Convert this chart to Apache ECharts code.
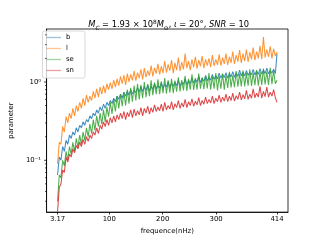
<!DOCTYPE html>
<html>
<head>
<meta charset="utf-8">
<script src="https://cdn.jsdelivr.net/npm/echarts@6/dist/echarts.min.js"></script>
<style>html,body{margin:0;padding:0;background:#fff}#c{width:320px;height:240px}</style>
</head>
<body>
<div id="c"></div>
<script>
const freq = [3.17,6.4,9.5,12.7,15.9,19.1,22.3,25.5,28.7,31.8,
35.0,38.2,41.4,44.6,47.8,50.9,54.1,57.3,60.5,63.7,
66.9,70.1,73.2,76.4,79.6,82.8,86.0,89.2,92.4,95.5,
98.7,101.9,105.1,108.3,111.5,114.6,117.8,121.0,124.2,127.4,
130.6,133.8,136.9,140.1,143.3,146.5,149.7,152.9,156.1,159.2,
162.4,165.6,168.8,172.0,175.2,178.3,181.5,184.7,187.9,191.1,
194.3,197.5,200.6,203.8,207.0,210.2,213.4,216.6,219.8,222.9,
226.1,229.3,232.5,235.7,238.9,242.0,245.2,248.4,251.6,254.8,
258.0,261.2,264.3,267.5,270.7,273.9,277.1,280.3,283.5,286.6,
289.8,293.0,296.2,299.4,302.6,305.7,308.9,312.1,315.3,318.5,
321.7,324.9,328.0,331.2,334.4,337.6,340.8,344.0,347.2,350.3,
353.5,356.7,359.9,363.1,366.3,369.4,372.6,375.8,379.0,382.2,
385.4,388.6,391.7,394.9,398.1,401.3,404.5,407.7,410.9,414.0];

const b = [0.065,0.11,0.10,0.15,0.13,0.18,0.16,0.21,0.19,0.23,
0.21,0.26,0.23,0.28,0.26,0.31,0.28,0.33,0.31,0.37,
0.34,0.40,0.37,0.44,0.40,0.48,0.43,0.52,0.46,0.55,
0.50,0.58,0.53,0.62,0.56,0.66,0.60,0.70,0.62,0.74,
0.66,0.76,0.68,0.80,0.70,0.78,0.73,0.84,0.74,0.88,
0.76,0.86,0.78,0.92,0.77,0.88,0.80,0.95,0.82,0.90,
0.84,0.98,0.83,0.94,0.86,1.02,0.85,0.96,0.88,1.00,
0.90,1.05,0.88,1.00,0.93,1.10,0.92,1.04,0.96,1.12,
0.97,1.08,1.00,1.18,0.98,1.12,1.02,1.20,1.04,1.14,
1.06,1.25,1.08,1.20,1.10,1.30,1.12,1.26,1.14,1.32,
1.12,1.28,1.16,1.36,1.15,1.30,1.18,1.42,1.20,1.34,
1.20,1.40,1.22,1.32,1.24,1.45,1.23,1.38,1.25,1.48,
1.26,1.42,1.28,1.50,1.27,1.40,1.30,1.46,1.28,2.30];

const l = [0.09,0.17,0.16,0.27,0.23,0.36,0.30,0.40,0.34,0.46,
0.37,0.50,0.42,0.55,0.46,0.62,0.50,0.68,0.55,0.66,
0.58,0.76,0.62,0.82,0.64,0.86,0.70,0.90,0.72,0.95,
0.80,0.98,0.82,1.06,0.86,1.10,0.90,1.18,0.95,1.22,
0.92,1.28,1.00,1.25,1.05,1.38,1.04,1.32,1.12,1.45,
1.08,1.50,1.15,1.40,1.20,1.62,1.18,1.52,1.28,1.70,
1.25,1.58,1.30,1.85,1.32,1.68,1.40,1.90,1.30,1.75,
1.42,2.05,1.38,1.80,1.45,2.30,1.50,1.85,1.42,1.95,
1.55,2.10,1.48,1.90,1.58,2.15,1.50,1.95,1.62,2.00,
1.55,2.20,1.60,1.95,1.65,2.25,1.62,2.05,1.70,2.30,
1.65,2.10,1.75,2.45,1.70,2.20,1.82,2.55,1.75,2.30,
1.85,2.60,1.80,2.40,1.95,2.75,1.90,2.45,2.00,2.90,
1.95,3.75,2.05,2.60,2.10,2.85,2.00,2.65,2.15,2.40];

const se = [0.030,0.065,0.060,0.10,0.085,0.13,0.10,0.15,0.12,0.17,
0.13,0.19,0.145,0.21,0.16,0.23,0.18,0.26,0.20,0.29,
0.22,0.33,0.24,0.37,0.27,0.40,0.29,0.44,0.31,0.48,
0.36,0.55,0.39,0.60,0.42,0.66,0.46,0.70,0.49,0.74,
0.50,0.80,0.53,0.84,0.56,0.90,0.58,0.95,0.60,0.92,
0.62,1.00,0.64,0.94,0.66,1.05,0.68,0.98,0.70,1.08,
0.70,1.02,0.72,1.12,0.71,1.05,0.73,1.10,0.72,1.04,
0.75,1.15,0.76,1.06,0.78,1.20,0.77,1.10,0.80,1.25,
0.79,1.12,0.80,1.28,0.82,1.15,0.81,1.22,0.83,1.30,
0.80,1.18,0.82,1.30,0.78,1.20,0.82,1.28,0.80,1.22,
0.84,1.35,0.85,1.22,0.86,1.38,0.87,1.28,0.88,1.40,
0.88,1.30,0.90,1.45,0.89,1.32,0.91,1.42,0.90,1.35,
0.92,1.48,0.93,1.36,0.92,1.52,0.94,1.40,0.95,1.05];

const sn = [0.022,0.045,0.050,0.075,0.070,0.11,0.095,0.12,0.11,0.14,
0.125,0.155,0.14,0.17,0.15,0.185,0.16,0.20,0.175,0.21,
0.19,0.23,0.21,0.26,0.22,0.28,0.25,0.31,0.27,0.33,
0.28,0.35,0.30,0.37,0.31,0.38,0.33,0.40,0.34,0.42,
0.33,0.41,0.36,0.44,0.35,0.45,0.37,0.43,0.38,0.47,
0.37,0.46,0.40,0.49,0.39,0.47,0.41,0.51,0.42,0.48,
0.43,0.52,0.42,0.55,0.44,0.50,0.45,0.56,0.44,0.53,
0.47,0.58,0.46,0.54,0.48,0.60,0.47,0.56,0.50,0.61,
0.49,0.57,0.51,0.63,0.50,0.58,0.52,0.64,0.53,0.60,
0.54,0.66,0.53,0.62,0.56,0.68,0.55,0.64,0.57,0.70,
0.56,0.66,0.58,0.72,0.57,0.67,0.60,0.74,0.59,0.69,
0.61,0.78,0.60,0.70,0.62,0.82,0.63,0.72,0.64,0.88,
0.62,0.76,0.65,0.86,0.64,0.74,0.66,0.80,0.63,0.55];

const xTicks = [3.17, 100, 200, 300, 414];
const yMajor = [0.1, 1];
const yMinor = [0.03,0.04,0.05,0.06,0.07,0.08,0.09,0.2,0.3,0.4,0.5,0.6,0.7,0.8,0.9,2,3,4];

const X_MIN = -17.4, X_MAX = 434.6, Y_MIN = 0.0218, Y_MAX = 4.75;
const FONT = 'DejaVu Sans';
const names = ['b','l','se','sn'];
const colors = ['#1f77b4','#ff7f0e','#2ca02c','#d62728'];
const seriesVals = [b, l, se, sn];

const chart = echarts.init(document.getElementById('c'), null, {renderer:'canvas'});

function tickSeries(vals, len){
  return {
    type:'custom', silent:true, clip:false, z:5,
    data: vals.map(v => [X_MIN, v]),
    encode:{x:0, y:1},
    renderItem(params, api){
      const p = api.coord([X_MIN, api.value(1)]);
      return {type:'line', shape:{x1:p[0]-len, y1:p[1], x2:p[0], y2:p[1]},
        style:{stroke:'#000', lineWidth:0.8}};
    }
  };
}

const lineSeries = names.map((n,i) => ({
  name:n, type:'line', showSymbol:false, symbol:'none',
  data: freq.map((f,j) => [f, seriesVals[i][j]]),
  lineStyle:{color:colors[i], width:1.04, opacity:0.85},
  itemStyle:{color:colors[i]},
  animation:false, z:2
}));

chart.setOption({
  animation:false,
  backgroundColor:'#fff',
  title:{
    text:'{i|M}{sb|C}{n| = 1.93 × 10}{sp|8}{i|M}{sb2|⊙}{n|, }{i|ι}{n| = 20°, }{i|SNR}{n| = 10}',
    left:163.6, top:14, textAlign:'center',
    textStyle:{
      fontFamily:FONT, fontSize:8.3, color:'#000', fontWeight:'normal',
      rich:{
        n:{fontSize:8.3, lineHeight:12, fontFamily:FONT, color:'#000'},
        i:{fontSize:8.3, lineHeight:12, fontStyle:'italic', fontFamily:FONT, color:'#000'},
        sb:{fontSize:5.8, lineHeight:8, verticalAlign:'bottom', fontStyle:'italic', fontFamily:FONT, color:'#000'},
        sb2:{fontSize:5.8, lineHeight:8, verticalAlign:'bottom', fontFamily:FONT, color:'#000'},
        sp:{fontSize:5.8, lineHeight:6, verticalAlign:'top', fontFamily:FONT, color:'#000'}
      }
    }
  },
  legend:{
    data:names, orient:'vertical', left:42.5, top:31,
    icon:'rect', itemWidth:14.5, itemHeight:1.3, itemGap:3, itemStyle:{opacity:0.45},
    padding:[2.5,11,3.5,4],
    borderColor:'#d0d0d0', borderWidth:0.8, borderRadius:2,
    backgroundColor:'rgba(255,255,255,0.8)',
    textStyle:{fontFamily:FONT, fontSize:6.9, color:'#000', lineHeight:8}
  },
  grid:{left:40, top:29, width:248, height:184.6, show:true, borderColor:'#000', borderWidth:0.8, backgroundColor:'transparent'},
  xAxis:{
    type:'value', min:X_MIN, max:X_MAX,
    name:'frequence(nHz)', nameLocation:'middle', nameGap:12,
    nameTextStyle:{fontFamily:FONT, fontSize:6.9, color:'#000'},
    axisLine:{show:true, onZero:false, lineStyle:{color:'#000', width:0.8}},
    axisTick:{show:true, customValues:xTicks, length:2.4, lineStyle:{color:'#000', width:0.8}},
    axisLabel:{customValues:xTicks, fontFamily:FONT, fontSize:6.9, color:'#000', margin:4,
      formatter: v => String(v)},
    splitLine:{show:false}
  },
  yAxis:{
    type:'log', logBase:10, min:Y_MIN, max:Y_MAX,
    name:'parameter', nameLocation:'middle', nameGap:23, nameRotate:90,
    nameTextStyle:{fontFamily:FONT, fontSize:6.9, color:'#000'},
    axisLine:{show:true, onZero:false, lineStyle:{color:'#000', width:0.8}},
    axisTick:{show:false},
    axisLabel:{fontFamily:FONT, fontSize:6.9, color:'#000', margin:5.5, showMinLabel:false, showMaxLabel:false,
      formatter: v => {
        const e = Math.log10(v), r = Math.round(e);
        if (Math.abs(e - r) > 1e-6) return '';
        if (r === 0) return '10⁰';
        if (r === -1) return '10⁻¹';
        return '';
      }},
    splitLine:{show:false}
  },
  series:[...lineSeries, tickSeries(yMajor, 2.4), tickSeries(yMinor, 1.4)]
});
</script>
</body>
</html>
